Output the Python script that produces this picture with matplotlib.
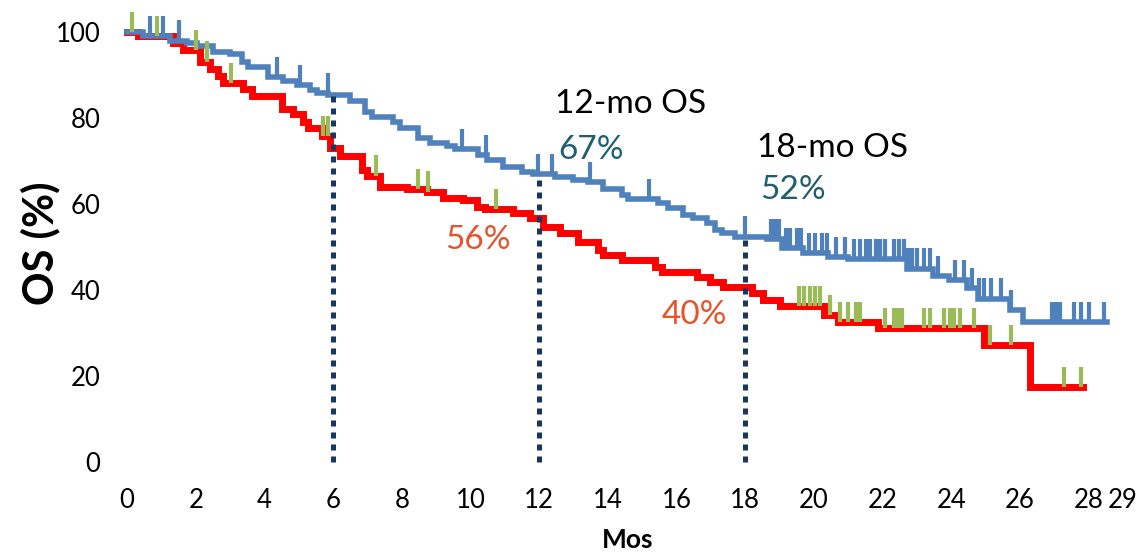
import numpy as np
import matplotlib.pyplot as plt

# --- datos (meses, % supervivencia global) ---
# curva azul: inicio de cada escalón y nivel que toma
azul_t = [0, 0.47, 1.25, 1.74, 2.03, 2.51, 3.0, 3.34, 3.53, 4.11, 4.55, 4.94, 5.33, 5.52, 5.86,
          6.49, 6.93, 7.12, 7.75, 7.95, 8.48, 8.82, 9.31, 9.55, 10.23, 10.47, 10.96, 11.49, 11.83,
          12.46, 13.0, 13.43, 13.87, 14.41, 14.6, 15.47, 15.76, 16.2, 16.49, 16.88, 17.12, 17.32, 17.71,
          18.63, 19.07, 19.69, 20.42, 21.0, 22.7, 23.48, 23.92, 24.45, 24.79, 25.71, 26.1]
azul_s = [100, 99.0, 98.0, 97.4, 96.7, 95.4, 94.8, 93.1, 91.8, 89.5, 88.7, 87.7, 86.5, 85.7, 85.3,
          84.0, 81.5, 80.3, 79.1, 77.6, 75.3, 74.3, 73.5, 72.8, 71.4, 70.2, 68.5, 67.5, 67.0,
          66.2, 65.6, 65.0, 63.6, 62.1, 61.1, 60.2, 59.0, 57.4, 56.7, 55.5, 54.0, 53.2, 52.4,
          51.8, 49.7, 48.5, 47.6, 47.1, 45.0, 43.3, 42.3, 40.5, 38.0, 35.3, 32.6]
azul_fin = 28.54

# curva roja
rojo_t = [0, 0.33, 1.35, 1.64, 2.12, 2.42, 2.66, 2.8, 3.39, 3.63, 4.5, 4.84, 5.13, 5.28, 5.67, 5.9,
          6.2, 6.84, 6.99, 7.37, 8.14, 8.73, 9.2, 9.79, 10.18, 10.42, 11.25, 11.74, 12.12,
          12.61, 13.14, 13.72, 13.87, 14.41, 15.38, 15.57, 16.59, 16.98, 17.36, 18.2, 18.53, 19.02,
          20.28, 20.71, 21.88, 24.94, 26.3]
rojo_s = [100, 99.1, 97.5, 95.8, 93.1, 91.5, 89.8, 88.1, 86.7, 85.1, 82.2, 80.9, 79.1, 77.6, 75.8, 73.0,
          71.2, 68.0, 66.6, 64.0, 63.4, 62.9, 61.3, 60.9, 59.4, 58.8, 57.8, 56.7, 54.7,
          53.3, 51.2, 49.3, 48.1, 47.0, 45.4, 44.3, 43.1, 41.9, 40.8, 39.2, 37.7, 36.3,
          34.2, 32.6, 31.1, 27.2, 17.5]
rojo_fin = 27.84

# pacientes censurados
azul_cens = [0.67, 1.04, 1.5, 4.38, 5.03, 5.84, 9.76, 10.46, 11.98, 12.37, 13.48, 15.2, 17.99,
             18.75, 18.87, 18.98, 19.19, 19.3, 19.51, 19.62, 19.85, 20.03, 20.23, 20.38, 20.64,
             20.9, 21.16, 21.34, 21.51, 21.63, 21.8, 21.92, 22.06, 22.33, 22.47, 22.62, 22.73,
             22.85, 23.0, 23.2, 23.37, 23.6, 24.1, 24.36, 24.59, 24.8, 24.94, 25.17, 25.44, 25.73,
             26.92, 27.06, 27.18, 27.56, 27.79, 28.02, 28.46]
rojo_cens = [0.16, 0.86, 2.02, 2.32, 3.02, 5.7, 5.85, 7.26, 8.47, 8.76, 10.75,
             19.56, 19.71, 19.88, 20.03, 20.17, 20.47, 20.76, 20.99, 21.22, 21.34, 22.06, 22.33,
             22.44, 22.56, 23.2, 23.37, 23.78, 23.95, 24.07, 24.24, 24.65, 25.12, 25.73, 27.27, 27.79]

hitos = [6, 12, 18]
x_ticks = list(range(0, 30, 2)) + [29]
y_ticks = [0, 20, 40, 60, 80, 100]

AZUL = "#4F81BD"
ROJO = "#FF0000"
VERDE = "#9BBB59"
NAVY = "#17375E"
TEAL = "#1F5E6E"
NARANJA = "#E5522B"
FUENTE = "Lato"


def nivel(t, s, x):
    """Nivel de la curva escalonada en el tiempo x."""
    i = np.searchsorted(t, x, side="right") - 1
    return np.asarray(s)[i]


def escalon(ax, t, s, fin, color, lw, z):
    ax.step(np.append(t, fin), np.append(s, s[-1]), where="post",
            color=color, lw=lw, zorder=z, clip_on=False, solid_joinstyle="miter")


fig = plt.figure(figsize=(11.42, 5.52), dpi=100)
ax = fig.add_axes([127 / 1142, 90 / 552, 996 / 1142, 451.5 / 552])

escalon(ax, rojo_t, rojo_s, rojo_fin, ROJO, 5.0, 3)
escalon(ax, azul_t, azul_s, azul_fin, AZUL, 4.0, 4)

base_r = nivel(rojo_t, rojo_s, rojo_cens)
ax.vlines(rojo_cens, base_r, base_r + 4.7, colors=VERDE, lw=3.0, zorder=5, clip_on=False)
base_a = nivel(azul_t, azul_s, azul_cens)
ax.vlines(azul_cens, base_a, base_a + 4.7, colors=AZUL, lw=3.0, zorder=5, clip_on=False)

# líneas punteadas en 6, 12 y 18 meses
for h in hitos:
    ax.plot([h, h], [0, nivel(azul_t, azul_s, h)], color=NAVY, lw=3.6,
            linestyle=(0, (1.2, 1.2)), dash_capstyle="butt", zorder=6, clip_on=False)

ax.text(12.46, 83.3, "12-mo OS", fontsize=24, family=FUENTE, va="center", ha="left")
ax.text(12.55, 72.6, "67%", fontsize=24, family=FUENTE, color=TEAL, va="center", ha="left")
ax.text(18.35, 73.0, "18-mo OS", fontsize=24, family=FUENTE, va="center", ha="left")
ax.text(18.43, 63.3, "52%", fontsize=24, family=FUENTE, color=TEAL, va="center", ha="left")
ax.text(9.26, 51.6, "56%", fontsize=24, family=FUENTE, color=NARANJA, va="center", ha="left")
ax.text(15.58, 34.2, "40%", fontsize=24, family=FUENTE, color=NARANJA, va="center", ha="left")

ax.set_xlim(0, 29)
ax.set_ylim(0, 105)
ax.set_xticks(x_ticks)
ax.set_yticks(y_ticks)
ax.tick_params(length=0, labelsize=18.5, pad=19)
ax.tick_params(axis="y", pad=19)
for lab in ax.get_xticklabels() + ax.get_yticklabels():
    lab.set_family(FUENTE)
for sp in ax.spines.values():
    sp.set_visible(False)

fig.text(40 / 1142, 1 - 243 / 552, "OS (%)", rotation=90, fontsize=30, fontweight="bold",
         family=FUENTE, ha="center", va="center")
fig.text(628 / 1142, 1 - 540 / 552, "Mos", fontsize=19, fontweight="bold",
         family=FUENTE, ha="center", va="center")

fig.savefig("out.png", dpi=100)
